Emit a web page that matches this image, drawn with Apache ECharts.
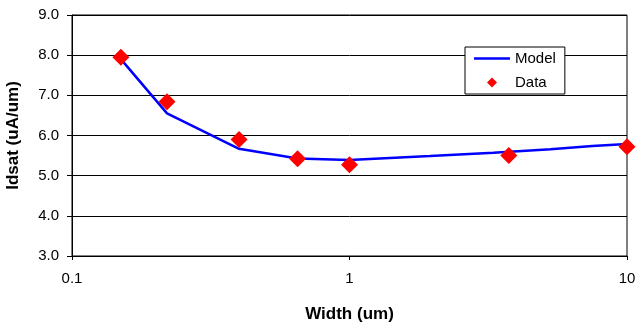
<!DOCTYPE html>
<html>
<head>
<meta charset="utf-8">
<script src="https://cdn.jsdelivr.net/npm/echarts@6/dist/echarts.min.js"></script>
<style>html,body{margin:0;padding:0;background:#fff;}#c{width:637px;height:326px;}</style>
</head>
<body>
<div id="c"></div>
<script>
const dataWidths = [0.15, 0.22, 0.4, 0.65, 1.0, 3.75, 10];
const dataIdsat = [7.95, 6.84, 5.9, 5.42, 5.27, 5.5, 5.72];
const modelWidths = [0.15, 0.22, 0.4, 0.65, 1.0, 1.95, 3.3, 5.3, 7.5, 10];
const modelIdsat = [7.9, 6.55, 5.67, 5.43, 5.39, 5.49, 5.57, 5.66, 5.74, 5.79];
const xTicks = [0.1, 1, 10];
const yTicks = [3, 4, 5, 6, 7, 8, 9];
const seriesNames = ['Model', 'Data'];

const chart = echarts.init(document.getElementById('c'), null, {renderer: 'canvas'});
const font = 'Liberation Sans, Arial, sans-serif';
chart.setOption({
  animation: false,
  backgroundColor: '#fff',
  textStyle: {fontFamily: font},
  grid: {left: 72, right: 10, top: 15, bottom: 70, show: true, borderColor: '#000', borderWidth: 1,
         containLabel: false, outerBoundsMode: 'none'},
  legend: {
    data: [
      {name: seriesNames[0], icon: 'path://M0,0H36V2.5H0Z'},
      {name: seriesNames[1], icon: 'path://M5,0L10,5L5,10L0,5Z'}
    ],
    symbolKeepAspect: true,
    orient: 'vertical',
    left: 465, top: 47,
    backgroundColor: '#fff',
    borderColor: '#000', borderWidth: 1,
    borderRadius: 0,
    padding: [4, 9, 4, 9],
    itemGap: 9,
    itemWidth: 36, itemHeight: 10,
    textStyle: {fontSize: 15, color: '#000', fontFamily: font}
  },
  xAxis: {
    type: 'log', logBase: 10,
    min: xTicks[0], max: xTicks[xTicks.length - 1],
    name: 'Width (um)', nameLocation: 'middle', nameGap: 50,
    nameTextStyle: {fontSize: 17, fontWeight: 'bold', color: '#000', fontFamily: font},
    axisLine: {lineStyle: {color: '#000', width: 1}},
    axisTick: {show: true, length: 4, lineStyle: {color: '#000'}},
    minorTick: {show: false},
    splitLine: {show: false},
    axisLabel: {fontSize: 15, color: '#000', margin: 15, formatter: v => String(+v.toPrecision(3))}
  },
  yAxis: {
    type: 'value',
    min: yTicks[0], max: yTicks[yTicks.length - 1], interval: 1,
    name: 'Idsat (uA/um)', nameLocation: 'middle', nameGap: 50, nameRotate: 90,
    nameTextStyle: {fontSize: 17, fontWeight: 'bold', color: '#000', fontFamily: font},
    axisLine: {show: true, lineStyle: {color: '#000', width: 1}},
    axisTick: {show: true, length: 5, lineStyle: {color: '#000'}},
    splitLine: {show: true, lineStyle: {color: '#000', width: 1}},
    axisLabel: {fontSize: 15, color: '#000', margin: 13, formatter: v => v.toFixed(1)}
  },
  series: [
    {
      name: seriesNames[0], type: 'line',
      data: modelWidths.map((w, i) => [w, modelIdsat[i]]),
      symbol: 'none',
      lineStyle: {color: '#0000ff', width: 2.5},
      itemStyle: {color: '#0000ff'},
      z: 2
    },
    {
      name: seriesNames[1], type: 'scatter',
      data: dataWidths.map((w, i) => [w, dataIdsat[i]]),
      symbol: 'diamond', symbolSize: 17,
      itemStyle: {color: '#ff0000', opacity: 1},
      z: 3
    }
  ]
});
</script>
</body>
</html>
